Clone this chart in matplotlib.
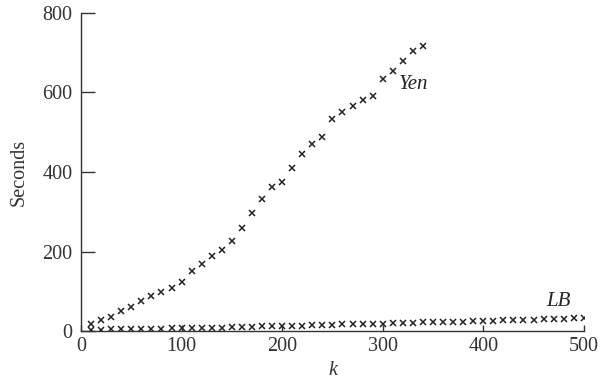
import matplotlib.pyplot as plt

# run time (seconds) vs k
k_yen = list(range(10, 350, 10))
yen = [17, 27, 36, 50, 61, 75, 89, 98, 109, 123,
       152, 168, 190, 203, 227, 259, 298, 332, 362, 374,
       411, 446, 470, 489, 533, 551, 566, 582, 591, 634,
       655, 678, 704, 716]

k_lb = list(range(10, 510, 10))
lb = [3, 3, 4, 4, 5, 5, 6, 6, 7, 7,
      8, 8, 9, 9, 10, 10, 11, 12, 12, 13,
      14, 14, 15, 15, 16, 17, 17, 18, 18, 19,
      20, 20, 21, 22, 22, 23, 23, 24, 25, 26,
      26, 27, 28, 28, 29, 30, 30, 31, 32, 33]

plt.rcParams['font.family'] = ['Liberation Serif', 'DejaVu Serif']

fig = plt.figure(figsize=(6, 3.81), dpi=100)
ax = fig.add_axes([0.135, 0.131, 0.838, 0.835])

ax.plot(k_yen, yen, 'x', color='#222222', markersize=4, markeredgewidth=1.1)
ax.plot(k_lb, lb, 'x', color='#222222', markersize=4, markeredgewidth=1.1)

ax.text(316, 619, 'Yen', fontsize=15, style='italic', ha='left', va='center', color='#222222')
ax.text(463, 75, 'LB', fontsize=15, style='italic', ha='left', va='center', color='#222222')

ax.set_xlim(0, 500)
ax.set_ylim(0, 800)
ax.set_xticks([0, 100, 200, 300, 400, 500])
ax.set_yticks([0, 200, 400, 600, 800])
ax.spines['top'].set_visible(False)
ax.spines['right'].set_visible(False)
for s in ('left', 'bottom'):
    ax.spines[s].set_color('#333333')
    ax.spines[s].set_linewidth(1.0)
ax.tick_params(axis='y', direction='in', length=10, width=1, pad=6, labelsize=14.5, colors='#333333')
ax.tick_params(axis='x', direction='in', length=4, width=1, pad=4, labelsize=14.5, colors='#333333')

ax.set_ylabel('Seconds', fontsize=14.5, color='#333333', labelpad=10)
ax.set_xlabel('k', fontsize=14.5, style='italic', color='#333333', labelpad=4)

fig.savefig('out.png', dpi=100)
